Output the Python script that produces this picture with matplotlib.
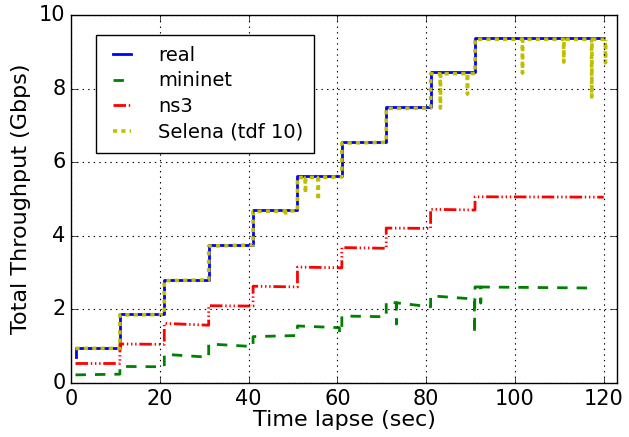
import numpy as np
import matplotlib
matplotlib.use("Agg")
import matplotlib.pyplot as plt

plt.style.use("classic")
plt.rcParams["lines.scale_dashes"] = False
plt.rcParams["font.family"] = ["DejaVu Sans"]

# ---------------- data ----------------
step_times = [1, 11, 21, 31, 41, 51, 61, 71, 81, 91]

real_levels = [0.94, 1.87, 2.81, 3.75, 4.69, 5.62, 6.56, 7.50, 8.44, 9.37]
real_first = 0.70
real_end = 120.0

selena_levels_start = [0.94, 1.85, 2.78, 3.72, 4.66, 5.58, 6.52, 7.46, 8.40, 9.34]
selena_levels_end = [0.94, 1.86, 2.80, 3.75, 4.68, 5.60, 6.54, 7.47, 8.41, 9.34]
selena_end = 120.5
selena_dip_t = [48.3, 52.8, 55.7, 83.2, 89.3, 101.7, 111.0, 117.3, 120.4]
selena_dip_v = [4.55, 5.16, 4.97, 7.47, 7.85, 8.42, 8.72, 7.77, 8.70]

mininet_start = [0.22, 0.45, 0.78, 1.06, 1.26, 1.55, 1.82, 2.21, 2.37, 2.61]
mininet_end = [0.24, 0.44, 0.70, 0.99, 1.29, 1.50, 1.80, 2.07, 2.28, 2.58]
mininet_end_t = 117.8
mininet_dip_t = [60.5, 73.3, 90.9, 92.3]
mininet_dip_v = [1.36, 1.60, 1.33, 2.17]

ns3_start = [0.53, 1.06, 1.62, 2.10, 2.63, 3.15, 3.68, 4.21, 4.72, 5.06]
ns3_end = [0.53, 1.05, 1.57, 2.09, 2.61, 3.13, 3.66, 4.20, 4.70, 5.05]
ns3_end_t = 120.0

x_ticks = [0, 20, 40, 60, 80, 100, 120]
y_ticks = [0, 2, 4, 6, 8, 10]


def build(times, starts, ends, t_end, dip_t=(), dip_v=()):
    bounds = list(times) + [t_end]
    xs, ys = [], []
    for i in range(len(times)):
        xs += [bounds[i], bounds[i + 1]]
        ys += [starts[i], ends[i]]
    xs = np.array(xs, float)
    ys = np.array(ys, float)
    for td, vd in zip(dip_t, dip_v):
        base = np.interp(td, xs, ys)
        k = np.searchsorted(xs, td)
        xs = np.insert(xs, k, [td - 0.05, td, td + 0.05])
        ys = np.insert(ys, k, [base, vd, base])
    return xs, ys


rx, ry = build(step_times, real_levels, real_levels, real_end)
rx = np.insert(rx, 0, step_times[0])
ry = np.insert(ry, 0, real_first)
mx, my = build(step_times, mininet_start, mininet_end, mininet_end_t,
               mininet_dip_t, mininet_dip_v)
nx, ny = build(step_times, ns3_start, ns3_end, ns3_end_t)
sx, sy = build(step_times, selena_levels_start, selena_levels_end, selena_end,
               selena_dip_t, selena_dip_v)

# ---------------- figure ----------------
fig = plt.figure(figsize=(6.29, 4.37), dpi=100, facecolor="white")
ax = fig.add_axes([0.113, 0.1236, 0.868, 0.8421])
ax.set_facecolor("white")

ax.plot(rx, ry, color="b", lw=2, label="real")
ax.plot(mx, my, color="g", lw=2, linestyle=(0, (7.5, 6.5)), label="mininet")
ax.plot(nx, ny, color="r", lw=2, linestyle=(0, (9, 2, 1, 2, 1, 2, 1, 2)), label="ns3")
ax.plot(sx, sy, color="y", lw=2.6, linestyle=(0, (3, 3)), label="Selena (tdf 10)")

ax.set_xlim(0, 123)
ax.set_ylim(0, 10)
ax.set_xticks(x_ticks)
ax.set_yticks(y_ticks)
ax.tick_params(labelsize=15, direction="in", length=4, pad=4)
ax.grid(True, color="k", linestyle=(0, (1, 3)), linewidth=0.8)
ax.set_xlabel("Time lapse (sec)", fontsize=16, labelpad=1)
ax.set_ylabel("Total Throughput (Gbps)", fontsize=16, labelpad=6)

leg = ax.legend(loc="upper left", bbox_to_anchor=(0.046, 0.946), borderaxespad=0,
                fontsize=14, handlelength=1.55, handletextpad=1.1,
                labelspacing=0.35, borderpad=0.55, fancybox=False)
leg.get_frame().set_edgecolor("k")
leg.get_frame().set_linewidth(1)

fig.savefig("out.png", dpi=100, facecolor="white")
